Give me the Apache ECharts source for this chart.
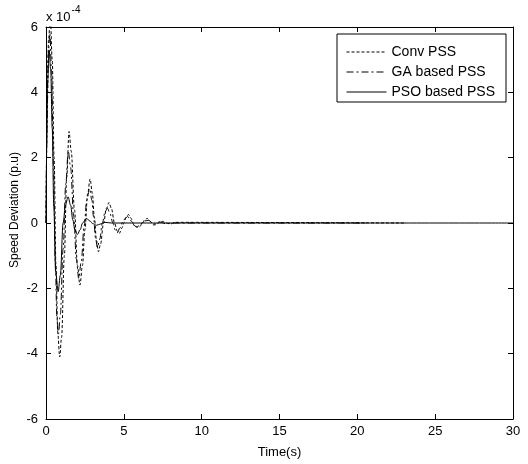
<!DOCTYPE html>
<html>
<head>
<meta charset="utf-8">
<script src="https://cdn.jsdelivr.net/npm/echarts@6/dist/echarts.min.js"></script>
<style>
html,body{margin:0;padding:0;background:#fff;}
#chart{width:528px;height:464px;}
</style>
</head>
<body>
<div id="chart"></div>
<script>
// Data (speed deviation in units of 1e-4 p.u.)
var seriesNames = ['Conv PSS', 'GA based PSS', 'PSO based PSS'];
var xTicks = [0, 5, 10, 15, 20, 25, 30];
var yTicks = [-6, -4, -2, 0, 2, 4, 6];

var tConv = [0,0.08,0.16,0.28,0.4,0.52,0.64,0.76,0.88,1.0,1.18,1.33,1.48,1.62,1.83,2.02,2.18,2.34,2.5,2.68,2.83,2.98,3.1,3.25,3.37,3.5,3.7,3.88,4.05,4.2,4.4,4.58,4.72,4.88,5.0,5.15,5.3,5.45,5.65,5.85,6.0,6.2,6.35,6.5,6.7,6.9,7.1,7.3,7.5,7.7,8.0,8.3,23];
var vConv = [0,3.5,5.6,6.3,5.0,2.0,-1.3,-3.4,-4.1,-3.5,-1.0,1.4,2.8,2.2,0.4,-1.3,-1.9,-1.3,-0.2,0.9,1.35,0.9,0.2,-0.55,-0.88,-0.65,0.0,0.45,0.63,0.45,0.0,-0.25,-0.31,-0.15,0.0,0.17,0.26,0.15,-0.05,-0.13,-0.12,0.0,0.1,0.14,0.05,-0.06,-0.05,0.04,0.05,0.0,-0.03,0.02,0];

var tGA = [0,0.07,0.15,0.25,0.36,0.48,0.6,0.7,0.8,0.92,1.1,1.27,1.43,1.58,1.78,1.95,2.1,2.26,2.45,2.62,2.8,2.95,3.05,3.18,3.3,3.45,3.62,3.8,3.95,4.1,4.3,4.45,4.58,4.75,4.95,5.1,5.25,5.4,5.6,5.8,6.0,6.3,6.6,6.9,7.3,7.7,8.1,20.5];
var vGA = [0,3.2,5.2,5.8,4.6,1.8,-1.2,-2.9,-3.4,-2.8,-0.8,1.2,2.2,1.7,0.2,-1.1,-1.7,-1.2,-0.1,0.7,1.05,0.7,0.2,-0.45,-0.75,-0.5,0.0,0.35,0.45,0.3,0.0,-0.22,-0.3,-0.15,0.05,0.15,0.2,0.1,-0.05,-0.12,-0.08,0.06,0.08,-0.03,0.03,-0.02,0,0];

var tPSO = [0,0.05,0.1,0.2,0.3,0.4,0.5,0.62,0.78,0.92,1.1,1.25,1.42,1.58,1.72,1.85,2.02,2.2,2.35,2.6,2.85,3.0,3.25,3.5,3.8,4.2,30];
var vPSO = [0,2.4,4.3,5.3,4.7,2.9,0.5,-1.5,-2.1,-1.6,0.0,0.55,0.8,0.55,0.1,-0.2,-0.35,-0.2,0.0,0.14,0.05,-0.02,-0.07,-0.03,0.02,0,0];

function pairs(t, v) { return t.map(function (x, i) { return [x, v[i]]; }); }

var FONT = 'Liberation Sans, Arial, sans-serif';
var xMin = xTicks[0], xMax = xTicks[xTicks.length - 1], xInt = xTicks[1] - xTicks[0];
var yMin = yTicks[0], yMax = yTicks[yTicks.length - 1], yInt = yTicks[1] - yTicks[0];

function axisBase(extra) {
  var o = {
    type: 'value',
    axisLine: { show: true, onZero: false, lineStyle: { color: '#000', width: 1 } },
    axisTick: { show: true, inside: true, length: 5, lineStyle: { color: '#000' } },
    splitLine: { show: false },
    axisLabel: { color: '#000', fontFamily: FONT, fontSize: 13 }
  };
  for (var k in extra) o[k] = extra[k];
  return o;
}

var chart = echarts.init(document.getElementById('chart'), null, { renderer: 'canvas' });
var lineCommon = { type: 'line', showSymbol: false, symbol: 'none', smooth: 0.35, smoothMonotone: 'x', animation: false, xAxisIndex: 0, yAxisIndex: 0 };

function mk(name, t, v, dash, z) {
  var s = { name: name, data: pairs(t, v), z: z, lineStyle: { color: '#000', width: 1, type: dash }, itemStyle: { color: '#000' } };
  for (var k in lineCommon) s[k] = lineCommon[k];
  return s;
}

chart.setOption({
  animation: false,
  backgroundColor: '#fff',
  grid: { left: 46, right: 15, top: 27, bottom: 43, containLabel: false },
  xAxis: [
    axisBase({ position: 'bottom', min: xMin, max: xMax, interval: xInt,
      axisLabel: { color: '#000', fontFamily: FONT, fontSize: 13, margin: 6 },
      name: 'Time(s)', nameLocation: 'middle', nameGap: 27,
      nameTextStyle: { color: '#000', fontFamily: FONT, fontSize: 13 } }),
    axisBase({ position: 'top', min: xMin, max: xMax, interval: xInt, axisLabel: { show: false } })
  ],
  yAxis: [
    axisBase({ position: 'left', min: yMin, max: yMax, interval: yInt,
      axisLabel: { color: '#000', fontFamily: FONT, fontSize: 13, margin: 8 } }),
    axisBase({ position: 'right', min: yMin, max: yMax, interval: yInt, axisLabel: { show: false } })
  ],
  legend: {
    data: seriesNames,
    orient: 'vertical',
    left: 337, top: 34,
    backgroundColor: '#fff',
    borderColor: '#000', borderWidth: 1,
    padding: [11, 11, 3, 9],
    itemGap: 6, itemWidth: 40, itemHeight: 14,
    itemStyle: { opacity: 0, borderWidth: 0 },
    lineStyle: { width: 1, color: '#000', opacity: 1 },
    textStyle: { color: '#000', fontFamily: FONT, fontSize: 14 },
    selectedMode: false
  },
  graphic: [
    { type: 'text', left: 46, top: 5,
      style: { text: '{b|x 10}{s|-4}', rich: {
        b: { fontFamily: FONT, fontSize: 13, fill: '#000', padding: [6, 0, 0, 0] },
        s: { fontFamily: FONT, fontSize: 10, fill: '#000', verticalAlign: 'top', padding: [0, 0, 6, 1] } } } },
    { type: 'text', x: 15, y: 210, rotation: Math.PI / 2,
      style: { text: 'Speed Deviation (p.u)', fontFamily: FONT, fontSize: 12, fill: '#000', align: 'center', verticalAlign: 'middle' } }
  ],
  series: [
    mk('PSO based PSS', tPSO, vPSO, 'solid', 2),
    mk('GA based PSS', tGA, vGA, [7, 3, 2, 3], 3),
    mk('Conv PSS', tConv, vConv, [3, 2], 4)
  ]
});
</script>
</body>
</html>
